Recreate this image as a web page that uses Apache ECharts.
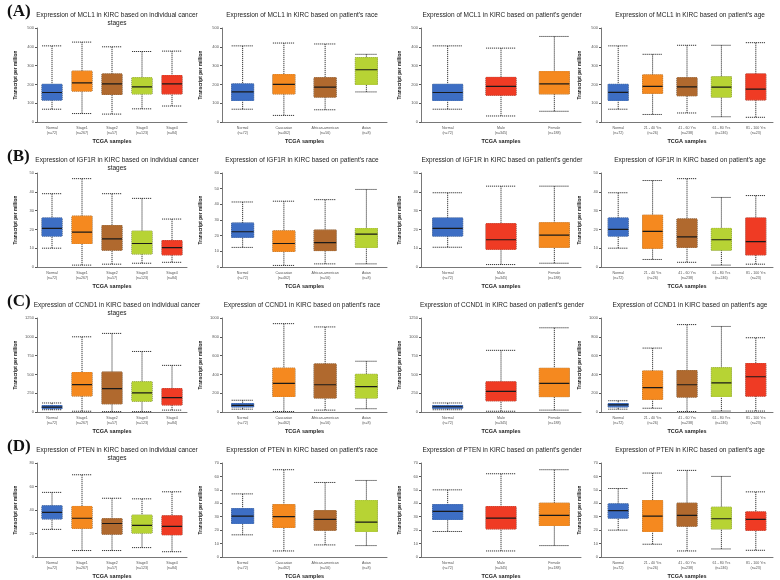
<!DOCTYPE html>
<html><head><meta charset="utf-8">
<script src="https://cdn.jsdelivr.net/npm/echarts@6/dist/echarts.min.js"></script>
<style>html,body{margin:0;padding:0;background:#fff}#c{width:780px;height:580px}</style>
</head><body><div id="c"></div>
<script>
var BLUE = '#3d6ec4', ORANGE = '#f5891f', BROWN = '#b0692e', LIME = '#b7d334', RED = '#ef3b24';

var genes = ['MCL1', 'IGF1R', 'CCND1', 'PTEN'];
var letters = ['(A)', '(B)', '(C)', '(D)'];

var stageCats = ['Normal\n(n=72)', 'Stage1\n(n=267)', 'Stage2\n(n=57)', 'Stage3\n(n=123)', 'Stage4\n(n=84)'];
var raceCats = ['Normal\n(n=72)', 'Caucasian\n(n=462)', 'African-american\n(n=56)', 'Asian\n(n=8)'];
var genderCats = ['Normal\n(n=72)', 'Male\n(n=345)', 'Female\n(n=188)'];
var ageCats = ['Normal\n(n=72)', '21 - 40 Yrs\n(n=26)', '41 - 60 Yrs\n(n=238)', '61 - 80 Yrs\n(n=246)', '81 - 100 Yrs\n(n=23)'];

var stageColors = [BLUE, ORANGE, BROWN, LIME, RED];
var raceColors = [BLUE, ORANGE, BROWN, LIME];
var genderColors = [BLUE, RED, ORANGE];
var ageColors = [BLUE, ORANGE, BROWN, LIME, RED];

// [min, Q1, median, Q3, max]
var mcl1Stage = [[68,117,157,200,405],[45,165,208,270,425],[42,147,203,255,400],[70,150,187,235,375],[85,150,203,247,377]];
var mcl1Race = [[68,115,160,202,405],[35,150,200,252,420],[65,133,185,235,415],[160,200,278,342,360]];
var mcl1Gender = [[68,115,157,200,405],[32,143,190,237,393],[57,150,203,268,455]];
var mcl1Age = [[68,115,158,200,405],[40,153,190,250,360],[48,140,187,235,408],[28,133,185,240,408],[25,118,175,255,422]];

var igf1rStage = [[10,16.5,20.5,26,39],[1,12.5,18.5,27,47],[1.5,9,15,22,39],[2,7,12.5,19,36.5],[2.5,6.5,10.3,14,25.5]];
var igf1rRace = [[12.5,19,22.5,28,41.5],[1,10,15,23,42],[2,10.5,15.5,23.5,43],[2,12.5,21,24.5,49.5]];
var igf1rGender = [[10.5,16.5,20.5,26,39.5],[1.3,9.5,14.5,23,43],[2,10.5,17,23.5,43]];
var igf1rAge = [[10,16.5,20,26,39.5],[4,10,19,27.5,46],[2.5,10.5,16,25.5,47],[1,9,14.5,20.5,37],[1.5,6.5,13.5,26,38]];

var ccnd1Stage = [[30,45,65,85,120],[10,215,365,525,1000],[5,110,310,530,1045],[5,145,255,400,805],[25,95,190,310,620]];
var ccnd1Race = [[30,55,70,90,125],[5,165,305,465,940],[20,150,290,510,905],[35,150,270,400,540]];
var ccnd1Gender = [[30,50,70,85,120],[10,150,275,400,820],[25,205,380,580,1120]];
var ccnd1Age = [[30,55,75,90,120],[40,135,260,435,680],[5,160,290,440,930],[10,165,310,470,910],[10,170,375,515,790]];

var ptenStage = [[23.5,32.5,38,43.5,55],[5.5,24.5,33,43,70],[5.5,19.5,28.5,32.5,50],[8,20.5,27,35.5,49.5],[4.5,19,26,35,55.5]];
var ptenRace = [[16.5,25,30.5,36,47],[4.5,22,30,39,65],[9,20,28,34.5,55.5],[8.5,19,26,42,57]];
var ptenGender = [[19,28,34,39,50],[4.5,21,29,37.5,62],[8.5,23.5,31,40,65]];
var ptenAge = [[20,29,34.5,39.5,51],[9.5,19,30.5,42,62.5],[4.5,23,31,40,64.5],[6,21,28.5,37,60],[5,20,28,33.5,48.5]];

// y axis ranges per panel [max, interval]
var yRanges = [
  [[500,100],[500,100],[500,100],[500,100]],
  [[50,10],[60,10],[50,10],[50,10]],
  [[1250,250],[1000,200],[1250,250],[1000,200]],
  [[80,20],[70,10],[70,10],[70,10]]
];

var rowsData = [
  [mcl1Stage, mcl1Race, mcl1Gender, mcl1Age],
  [igf1rStage, igf1rRace, igf1rGender, igf1rAge],
  [ccnd1Stage, ccnd1Race, ccnd1Gender, ccnd1Age],
  [ptenStage, ptenRace, ptenGender, ptenAge]
];
var colCats = [stageCats, raceCats, genderCats, ageCats];
var colColors = [stageColors, raceColors, genderColors, ageColors];
var colTitles = ['individual cancer\nstages', "patient's race", "patient's gender", "patient's age"];

var colLeft = [37, 222, 421, 601];
var colWidth = [150, 165, 160, 172];
var colCenter = [112, 297, 497, 685];

var grids = [], xAxes = [], yAxes = [], series = [], titles = [];

for (var r = 0; r < 4; r++) {
  var rowTop = r * 145;
  titles.push({
    text: letters[r], left: 2, top: rowTop - 2,
    textStyle: {fontFamily: 'Liberation Serif', fontWeight: 'bold', fontSize: 17, color: '#111'}
  });
  for (var c = 0; c < 4; c++) {
    var gi = grids.length;
    titles.push({
      text: 'Expression of ' + genes[r] + ' in KIRC based on ' + colTitles[c],
      left: colCenter[c], top: rowTop + 6, textAlign: 'center',
      textStyle: {fontSize: 6.5, fontWeight: 'normal', color: '#222', lineHeight: 8, fontFamily: 'Liberation Sans'}
    });
    grids.push({left: colLeft[c], top: rowTop + 28, width: colWidth[c], height: 94});
    var cats = colCats[c];
    for (var k = 0; k < 3; k++) {
      xAxes.push({
        type: 'category', gridIndex: gi, data: cats, show: k === 0,
        name: k === 0 ? 'TCGA samples' : '', nameLocation: 'middle', nameGap: 16,
        nameTextStyle: {fontSize: 5.5, fontWeight: 'bold', color: '#222'},
        axisLine: {lineStyle: {color: '#555', width: 0.8}},
        axisTick: {show: false},
        axisLabel: {fontSize: 3.6, color: '#555', lineHeight: 4.5, interval: 0, margin: 4}
      });
    }
    var yr = yRanges[r][c];
    yAxes.push({
      type: 'value', gridIndex: gi, min: 0, max: yr[0], interval: yr[1],
      name: 'Transcript per million', nameLocation: 'middle', nameGap: 19,
      nameTextStyle: {fontSize: 4.8, fontWeight: 'bold', color: '#222'},
      axisLine: {show: true, lineStyle: {color: '#555', width: 0.8}},
      axisTick: {show: true, length: 2},
      axisLabel: {fontSize: 4, color: '#555', margin: 3, formatter: function (v) { return String(v); }},
      splitLine: {show: false}
    });
    var d = rowsData[r][c], cols = colColors[c];
    var bw = c === 1 ? [22, 22] : (c === 2 ? [30, 30] : [20, 20]);
    // whiskers (dotted)
    series.push({
      type: 'boxplot', xAxisIndex: gi * 3, yAxisIndex: gi, boxWidth: bw, silent: true,
      itemStyle: {color: 'transparent', borderColor: '#222', borderWidth: 0.9, borderType: [1.2, 0.8]},
      data: d
    });
    // coloured box
    series.push({
      type: 'boxplot', xAxisIndex: gi * 3 + 1, yAxisIndex: gi, boxWidth: bw, silent: true,
      data: d.map(function (v, i) {
        return {value: [v[1], v[1], v[2], v[3], v[3]],
          itemStyle: {color: cols[i], borderColor: cols[i], borderWidth: 0.6, opacity: 1}};
      })
    });
    // median (solid black)
    series.push({
      type: 'boxplot', xAxisIndex: gi * 3 + 2, yAxisIndex: gi, boxWidth: bw, silent: true,
      itemStyle: {color: 'transparent', borderColor: '#1a1a1a', borderWidth: 1.2},
      data: d.map(function (v) { return [v[2], v[2], v[2], v[2], v[2]]; })
    });
  }
}

var chart = echarts.init(document.getElementById('c'));
chart.setOption({
  animation: false,
  title: titles,
  grid: grids,
  xAxis: xAxes,
  yAxis: yAxes,
  series: series
});
</script>
</body></html>
